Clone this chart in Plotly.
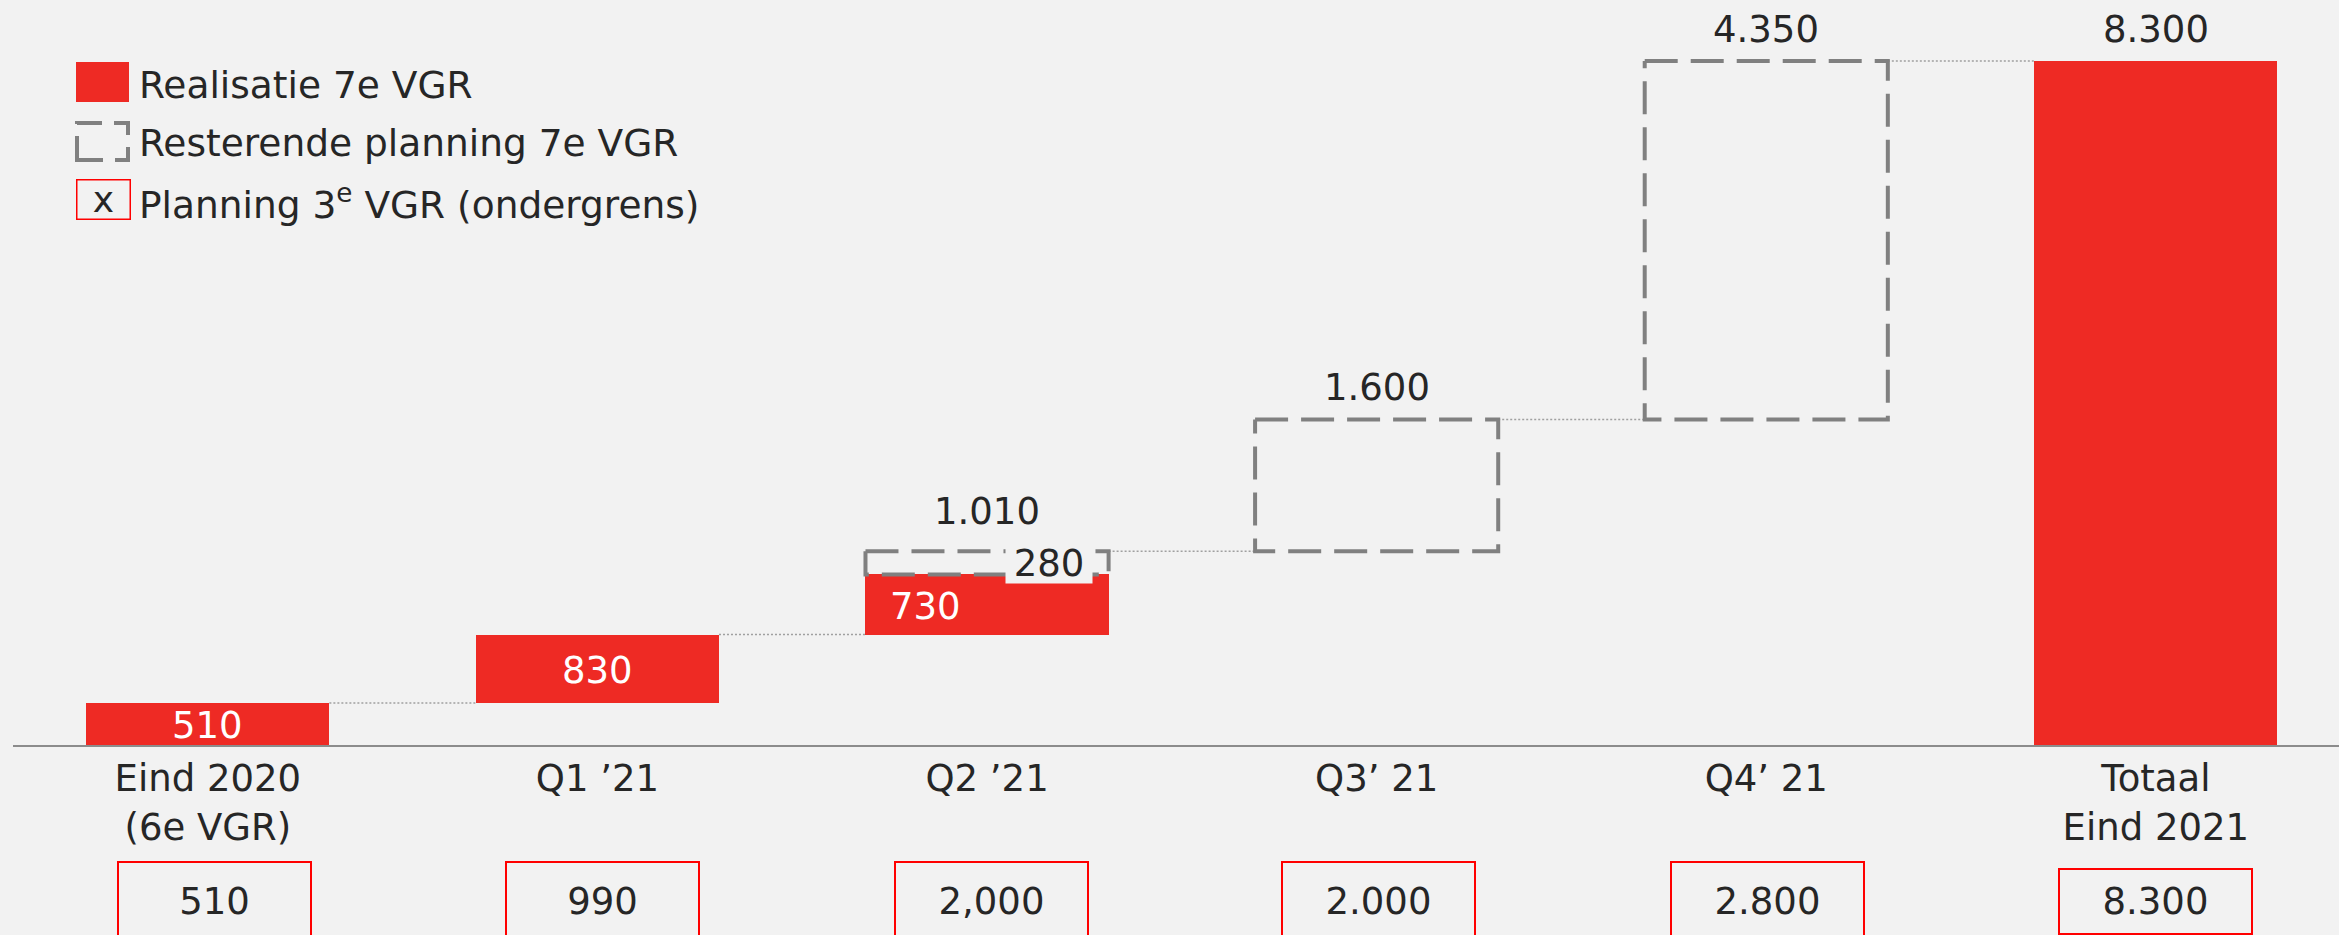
import plotly.graph_objects as go

# ---------------- data ----------------
categories = ["Eind 2020<br>(6e VGR)", "Q1 ’21", "Q2 ’21", "Q3’ 21", "Q4’ 21", "Totaal<br>Eind 2021"]
realisatie = [510, 830, 730, 0, 0, 8300]          # red (realised) segments
resterend = [0, 0, 280, 1600, 4350, 0]            # dashed (remaining planning) segments
bar_labels = ["510", "830", "730", "", "", ""]    # labels inside red bars
period_labels = ["", "", "1.010", "1.600", "4.350", "8.300"]  # labels above
planning_3e = ["510", "990", "2,000", "2.000", "2.800", "8.300"]  # boxes below
legend_labels = ["Realisatie 7e VGR", "Resterende planning 7e VGR",
                 "Planning 3<sup>e</sup> VGR (ondergrens)"]

# ---------------- style ----------------
RED = "#EE2A24"
GREY = "#808080"
TXT = "#262626"
BG = "#f2f2f2"
FONT = "DejaVu Sans"
FS = 37
W, H = 2339, 935
ML, MB = 13, 190
BAR_W = 0.624
X_RANGE = [-0.5, 5.47]
Y_MAX = 9040

pos = list(range(len(categories)))
n = len(categories)

# waterfall bases
red_base, dash_base, level = [], [], []
cum = 0
for i in range(n - 1):
    red_base.append(cum)
    cum += realisatie[i]
    dash_base.append(cum)
    cum += resterend[i]
    level.append(cum)
red_base.append(0)
dash_base.append(realisatie[-1])
level.append(realisatie[-1] + resterend[-1])

plot_w = W - ML
plot_h = H - MB


def px(X):
    return (X - ML) / plot_w


def py(Y):
    return (plot_h - Y) / plot_h


fig = go.Figure()

# red bars
fig.add_trace(go.Bar(
    x=pos, y=realisatie, base=red_base, width=BAR_W,
    marker=dict(color=RED, line=dict(width=0)),
    hoverinfo="skip",
))

# dotted connectors
for i in range(n - 1):
    right = pos[i] + BAR_W / 2
    left = pos[i + 1] - BAR_W / 2
    fig.add_trace(go.Scatter(
        x=[right, left], y=[level[i], level[i]], mode="lines",
        line=dict(color="#a0a0a0", width=1.5, dash="2px,2px"),
        hoverinfo="skip",
    ))

# dashed boxes for remaining planning
for i in range(n):
    if resterend[i] > 0:
        l, r = pos[i] - BAR_W / 2, pos[i] + BAR_W / 2
        b, t = dash_base[i], dash_base[i] + resterend[i]
        fig.add_trace(go.Scatter(
            x=[l, r, r, l, l], y=[t, t, b, b, t], mode="lines",
            line=dict(color=GREY, width=4, dash="33px,13px"),
            hoverinfo="skip",
        ))

annotations = []

# labels inside red bars
for i in range(n):
    if bar_labels[i]:
        shift = -62 if resterend[i] > 0 else 0
        annotations.append(dict(
            x=pos[i], y=red_base[i] + realisatie[i] / 2, xref="x", yref="y",
            text=bar_labels[i], showarrow=False, xshift=shift, yshift=-2,
            font=dict(family=FONT, size=FS, color="white"),
        ))
    # remaining label box (only where a red bar sits below)
    if resterend[i] > 0 and realisatie[i] > 0:
        annotations.append(dict(
            x=pos[i], y=dash_base[i] + resterend[i] / 2, xref="x", yref="y",
            text=str(resterend[i]), showarrow=False, xshift=62, yshift=0,
            bgcolor=BG, width=86, height=40, borderpad=0,
            font=dict(family=FONT, size=FS, color=TXT),
        ))

# labels above
for i in range(n):
    if period_labels[i]:
        extra = 16 if (resterend[i] > 0 and realisatie[i] > 0) else 8
        annotations.append(dict(
            x=pos[i], y=level[i], xref="x", yref="y", yanchor="bottom",
            text=period_labels[i], showarrow=False, yshift=extra,
            font=dict(family=FONT, size=FS, color=TXT),
        ))

# planning 3e VGR boxes below axis
box_xshift = [7, 5, 4, 2, 1, 0]
for i in range(n):
    h = 63 if i == n - 1 else 76
    annotations.append(dict(
        x=pos[i], y=py(901), xref="x", yref="paper", yanchor="middle",
        text=planning_3e[i], showarrow=False, xshift=box_xshift[i],
        width=191, height=h, borderpad=0,
        bordercolor="#ff0000", borderwidth=2,
        font=dict(family=FONT, size=37, color=TXT),
    ))

# legend texts
leg_y = [100, 158, 217]
for lab, yb in zip(legend_labels, leg_y):
    annotations.append(dict(
        x=px(137), y=py(yb - 15), xref="paper", yref="paper",
        xanchor="left", yanchor="middle", text=lab, showarrow=False,
        font=dict(family=FONT, size=37.5, color=TXT),
    ))
# legend "x" box
annotations.append(dict(
    x=px(103), y=py(200), xref="paper", yref="paper",
    xanchor="center", yanchor="middle", text="x", showarrow=False,
    width=52, height=38, borderpad=0, bordercolor="#ff0000", borderwidth=1.5,
    font=dict(family=FONT, size=36, color=TXT), yshift=0,
))

shapes = [
    # legend red square
    dict(type="rect", xref="paper", yref="paper",
         x0=px(76), x1=px(129), y0=py(102), y1=py(62),
         fillcolor=RED, line=dict(width=0)),
    # legend dashed box
    dict(type="rect", xref="paper", yref="paper",
         x0=px(77), x1=px(128), y0=py(160), y1=py(123),
         fillcolor="rgba(0,0,0,0)",
         line=dict(color=GREY, width=4, dash="26px,12px")),
]

fig.update_layout(
    width=W, height=H,
    margin=dict(l=ML, r=0, t=0, b=MB, pad=0),
    paper_bgcolor=BG, plot_bgcolor=BG,
    showlegend=False,
    bargap=0,
    font=dict(family=FONT, size=FS, color=TXT),
    xaxis=dict(
        range=X_RANGE, tickmode="array", tickvals=pos, ticktext=categories,
        showline=True, linecolor="#8c8c8c", linewidth=2,
        showgrid=False, zeroline=False, ticks="",
        tickfont=dict(family=FONT, size=FS, color=TXT),
        fixedrange=True,
    ),
    yaxis=dict(range=[0, Y_MAX], visible=False, showgrid=False,
               zeroline=False, fixedrange=True),
    annotations=annotations,
    shapes=shapes,
)

fig.write_html(
    "out.html",
    config={"displayModeBar": False},
    post_script="document.body.style.margin='0';document.body.style.overflow='hidden';"
                "document.body.style.background='#f2f2f2';",
)
